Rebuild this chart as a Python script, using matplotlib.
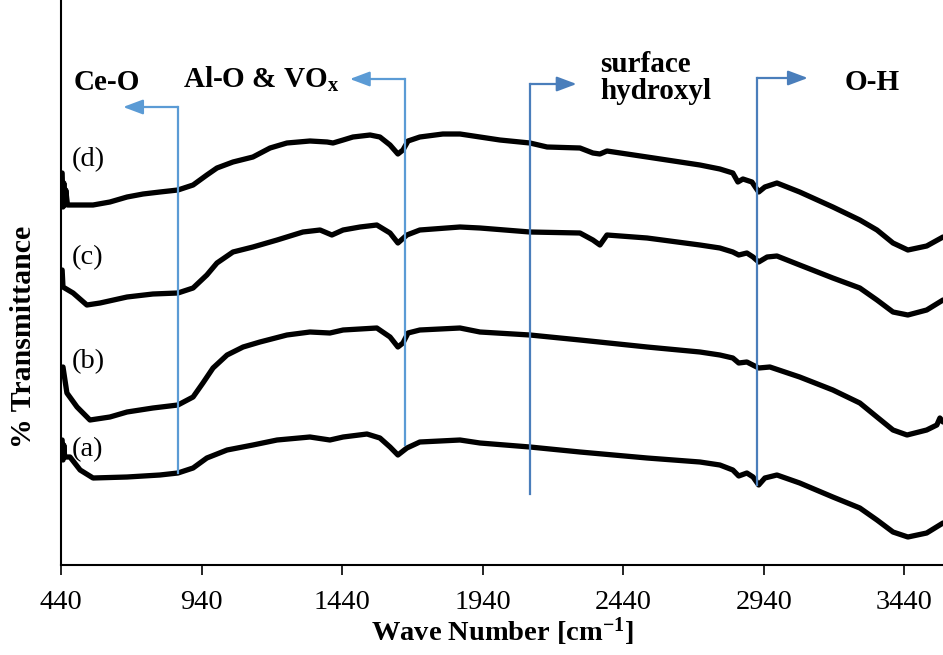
import matplotlib
matplotlib.use("Agg")
import matplotlib.pyplot as plt

# ==============================================
# DATA (arbitrary transmittance units)
# ==============================================
wn_a = [443, 446, 449, 452, 471, 507, 553, 674, 791, 855, 909, 958, 1030, 1122, 1208,
        1325, 1396, 1443, 1528, 1574, 1610, 1638, 1670, 1716, 1859, 1930, 2108, 2286,
        2525, 2713, 2784, 2830, 2851, 2880, 2902, 2922, 2944, 2987, 3068, 3186, 3282,
        3343, 3400, 3453, 3520, 3578]
t_a = [12.5, 10.5, 12.0, 10.8, 10.8, 9.5, 8.7, 8.8, 9.0, 9.2, 9.7, 10.7, 11.5, 12.0, 12.5,
       12.8, 12.5, 12.8, 13.1, 12.7, 11.8, 11.0, 11.7, 12.3, 12.5, 12.2, 11.8, 11.3,
       10.7, 10.3, 10.0, 9.5, 8.9, 9.2, 8.8, 8.0, 8.7, 9.0, 8.2, 6.8, 5.7,
       4.5, 3.3, 2.8, 3.2, 4.2]

wn_b = [446, 460, 496, 542, 613, 674, 766, 855, 909, 944, 980, 1030, 1087, 1147, 1243,
        1325, 1396, 1443, 1563, 1610, 1638, 1656, 1674, 1716, 1859, 1930, 2108, 2286,
        2525, 2713, 2784, 2830, 2851, 2880, 2922, 2962, 3068, 3186, 3282, 3343, 3400,
        3450, 3520, 3556, 3567, 3578]
t_b = [19.8, 17.2, 15.8, 14.5, 14.8, 15.3, 15.7, 16.0, 16.8, 18.2, 19.7, 21.0, 21.8, 22.3, 23.0,
       23.3, 23.2, 23.5, 23.7, 22.8, 21.8, 22.2, 23.2, 23.5, 23.7, 23.3, 23.0, 22.5,
       21.8, 21.3, 21.0, 20.7, 20.2, 20.3, 19.7, 19.8, 18.8, 17.5, 16.2, 14.8, 13.5,
       13.0, 13.5, 14.0, 14.7, 14.3]

wn_c = [443, 446, 482, 531, 578, 674, 766, 855, 909, 958, 994, 1051, 1122, 1208, 1300,
        1361, 1403, 1443, 1503, 1563, 1610, 1638, 1670, 1716, 1859, 1930, 2108, 2286,
        2332, 2357, 2382, 2525, 2713, 2784, 2830, 2851, 2880, 2902, 2922, 2952, 2987,
        3068, 3186, 3282, 3343, 3400, 3453, 3520, 3578]
t_c = [29.5, 27.8, 27.2, 26.0, 26.2, 26.8, 27.1, 27.2, 27.7, 29.0, 30.2, 31.3, 31.8, 32.5, 33.3,
       33.5, 33.0, 33.5, 33.8, 34.0, 33.2, 32.2, 33.0, 33.5, 33.8, 33.7, 33.3, 33.2,
       32.5, 32.0, 33.0, 32.7, 32.0, 31.7, 31.3, 31.0, 31.2, 30.8, 30.3, 30.8, 30.9,
       30.0, 28.7, 27.7, 26.5, 25.3, 25.0, 25.5, 26.5]

wn_d = [443, 446, 449, 452, 456, 462, 553, 613, 674, 731, 791, 855, 909, 958, 994,
        1051, 1122, 1183, 1243, 1325, 1386, 1407, 1443, 1478, 1539, 1574, 1610, 1638,
        1656, 1674, 1716, 1798, 1859, 1930, 2001, 2108, 2169, 2286, 2332, 2357, 2382,
        2525, 2713, 2784, 2830, 2848, 2866, 2898, 2922, 2944, 2987, 3068, 3186, 3282,
        3343, 3400, 3453, 3520, 3578]
t_d = [39.2, 35.8, 38.2, 36.0, 37.5, 36.0, 36.0, 36.3, 36.8, 37.1, 37.3, 37.5, 38.0, 39.0, 39.7,
       40.3, 40.8, 41.7, 42.2, 42.4, 42.3, 42.2, 42.5, 42.8, 43.0, 42.8, 42.0, 41.1,
       41.5, 42.4, 42.8, 43.1, 43.1, 42.8, 42.5, 42.2, 41.8, 41.7, 41.2, 41.1, 41.4,
       40.8, 40.0, 39.6, 39.2, 38.3, 38.6, 38.3, 37.3, 37.8, 38.2, 37.3, 35.8, 34.5,
       33.5, 32.2, 31.5, 31.9, 32.8]

series = [(wn_a, t_a, "(a)"), (wn_b, t_b, "(b)"), (wn_c, t_c, "(c)"), (wn_d, t_d, "(d)")]
label_y = [11.5, 20.3, 30.7, 40.5]

x_ticks = [440, 940, 1440, 1940, 2440, 2940, 3440]

# band markers: (wavenumber, line bottom, line top, arrow tip, label, label x, label y, align, colour)
bands = [
    (855, 9.2, 45.8, 660, "Ce-O", 603, 48.3, "center", "#5B9BD5"),
    (1663, 12.0, 48.6, 1467, "Al-O & VO$_x$", 1150, 48.6, "center", "#5B9BD5"),
    (2108, 7.1, 48.1, 2274, "surface\nhydroxyl", 2358, 48.7, "left", "#4A7EBB"),
    (2916, 8.0, 48.7, 3097, "O-H", 3325, 48.3, "center", "#4A7EBB"),
]

# ==============================================
# PLOT
# ==============================================
plt.rcParams["font.family"] = ["Liberation Serif", "DejaVu Serif"]
plt.rcParams["mathtext.default"] = "regular"

fig = plt.figure(figsize=(9.43, 6.55), dpi=100)
ax = fig.add_axes([0.065, 0.1374, 0.935, 0.8626])

for wn, t, name in series:
    ax.plot(wn, t, color="black", lw=3.8, solid_joinstyle="round", solid_capstyle="round")

for (wn, t, name), y in zip(series, label_y):
    ax.text(478, y, name, fontsize=20.5, ha="left", va="center")

for x0, y0, y1, tip, txt, tx, ty, ha, col in bands:
    ax.plot([x0, x0], [y0, y1], color=col, lw=1.6)
    ax.annotate("", xy=(tip, y1), xytext=(x0, y1),
                arrowprops=dict(arrowstyle="-|>,head_length=1.2,head_width=0.45",
                                color=col, lw=1.6, shrinkA=0, shrinkB=0))
    ax.text(tx, ty, txt, fontsize=21, fontweight="bold", ha=ha, va="center",
            linespacing=1.0)

ax.set_xlim(440, 3578)
ax.set_ylim(0, 56.5)
ax.set_xticks(x_ticks)
ax.set_yticks([])
ax.tick_params(axis="x", direction="out", length=7, width=1.2, labelsize=20.5, pad=11)
for s in ["top", "right"]:
    ax.spines[s].set_visible(False)
for s in ["left", "bottom"]:
    ax.spines[s].set_linewidth(1.5)

ax.set_xlabel("Wave Number [cm$^{-1}$]", fontsize=20.5, fontweight="bold", labelpad=0)
ax.set_ylabel("% Transmittance", fontsize=21.5, fontweight="bold")
ax.yaxis.set_label_coords(-0.027, 0.4035)

fig.savefig("out.png", dpi=100)
